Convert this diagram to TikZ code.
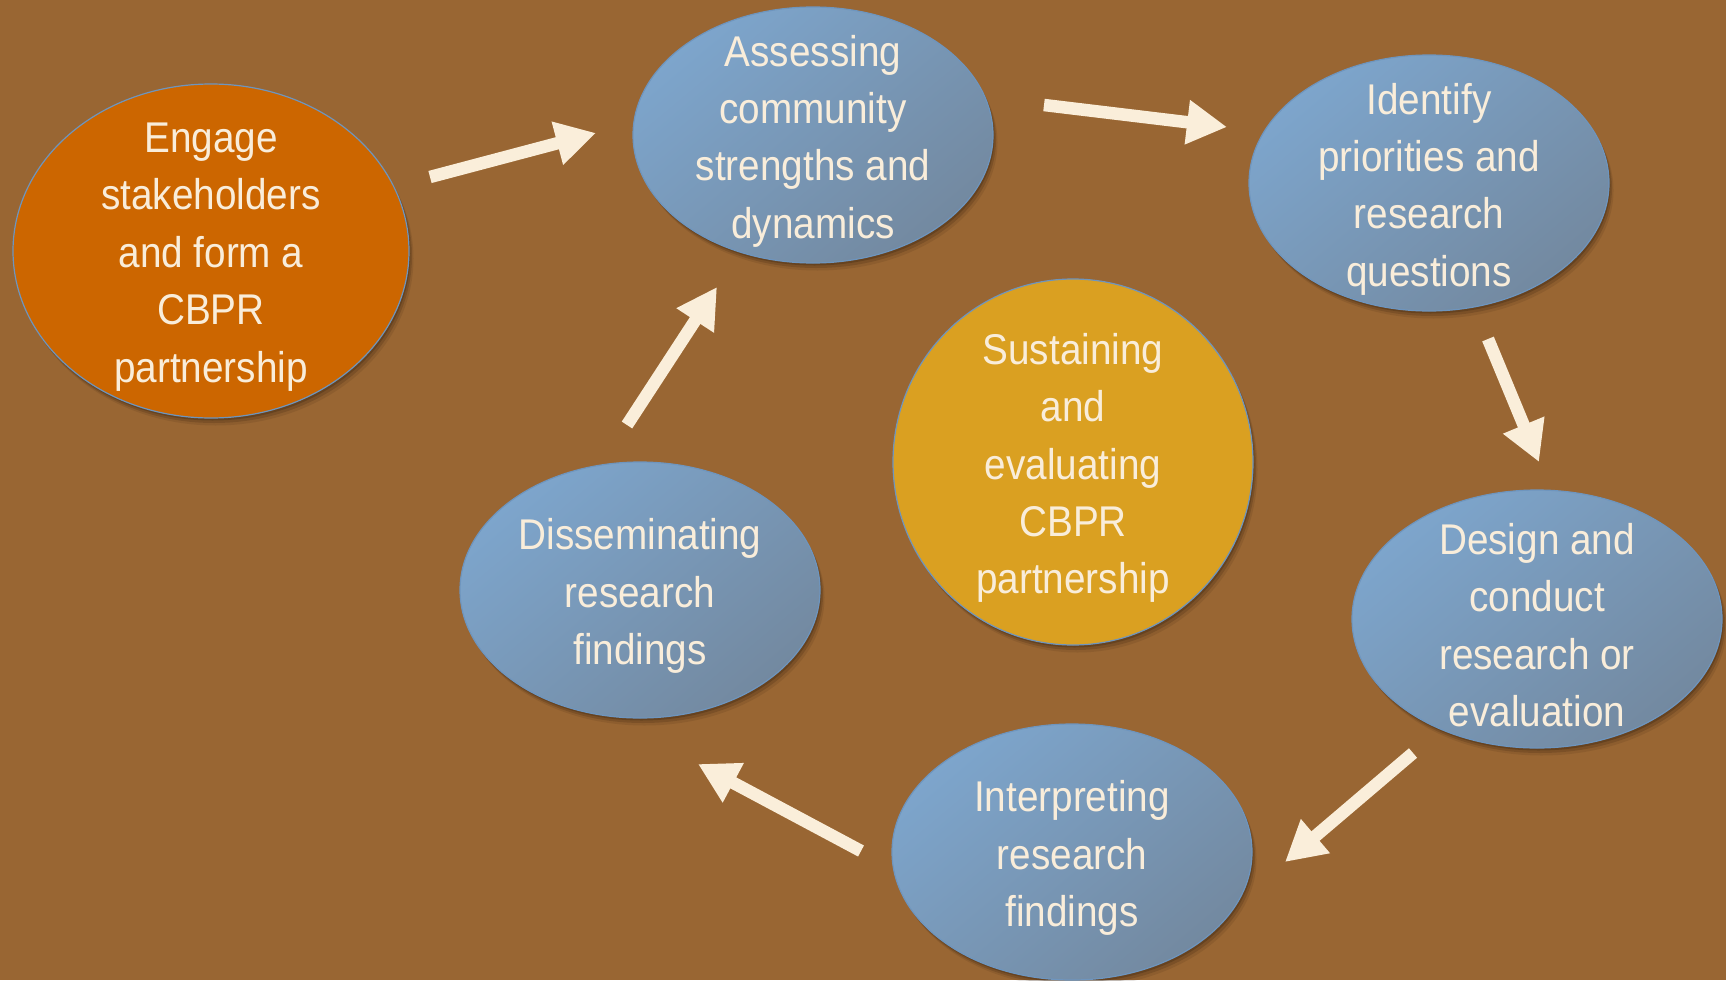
\documentclass[tikz,border=0pt]{standalone}
\usepackage{fontspec}
\setmainfont[FakeStretch=0.9]{Liberation Sans}
\usetikzlibrary{shapes.geometric,arrows.meta,shadows}
\definecolor{bg}{HTML}{996633}
\definecolor{orangefill}{HTML}{CC6600}
\definecolor{goldfill}{HTML}{DAA021}
\definecolor{blueA}{HTML}{7DA5CC}
\definecolor{blueB}{HTML}{7389A0}
\definecolor{edgeblue}{HTML}{6E95BE}
\definecolor{txt}{HTML}{F9EDDA}
\definecolor{arrowcol}{HTML}{FAEEDA}
\definecolor{shadowcol}{HTML}{3A2410}
\begin{document}
\begin{tikzpicture}[x=1pt,y=-1pt,
  bubble/.style={ellipse, draw=edgeblue, line width=1.2pt, inner sep=0pt,
    drop shadow={shadow xshift=1.5pt,shadow yshift=-2.5pt,opacity=.30,fill=shadowcol},
    drop shadow={shadow xshift=3pt,shadow yshift=-5pt,opacity=.22,fill=shadowcol},
    drop shadow={shadow xshift=4.5pt,shadow yshift=-7.5pt,opacity=.12,fill=shadowcol}},
  bluebub/.style={bubble, top color=blueA, bottom color=blueB, shading angle=40},
  lbl/.style={text=txt, align=center, inner sep=0pt, yshift=-6pt, font=\fontsize{43}{57.4}\selectfont},
  bigarrow/.style={draw=arrowcol, line width=12.5pt, -{Triangle[length=40pt,width=42pt]}}
]
\useasboundingbox (0,0) rectangle (1726,980);
\fill[bg] (0,0) rectangle (1726,980);

% bubbles
\node[bubble, fill=orangefill, minimum width=396pt, minimum height=334pt] (eng) at (211,251) {};
\node[bluebub, minimum width=360pt, minimum height=256pt] (ass) at (813,135) {};
\node[bluebub, minimum width=360pt, minimum height=256pt] (idf) at (1429,183) {};
\node[bluebub, minimum width=370pt, minimum height=258pt] (des) at (1537,619) {};
\node[bluebub, minimum width=360pt, minimum height=256pt] (intp) at (1072,852) {};
\node[bluebub, minimum width=360pt, minimum height=256pt] (dis) at (640,590) {};
\node[bubble, fill=goldfill, minimum width=360pt, minimum height=366pt] (sus) at (1073,462) {};

% labels
\node[lbl] (engt) at (eng) {Engage\\stakeholders\\and form a\\CBPR\\partnership};
\node[lbl] (asst) at (ass) {Assessing\\community\\strengths and\\dynamics};
\node[lbl] (idft) at (idf) {Identify\\priorities and\\research\\questions};
\node[lbl] (dest) at (des) {Design and\\conduct\\research or\\evaluation};
\node[lbl] (intpt) at (intp) {Interpreting\\research\\findings};
\node[lbl] (dist) at (dis) {Disseminating\\research\\findings};
\node[lbl] (sust) at (sus) {Sustaining\\and\\evaluating\\CBPR\\partnership};

% arrows
\coordinate (a1s) at (430,177);  \coordinate (a1e) at (596,133);
\coordinate (a2s) at (627,425);  \coordinate (a2e) at (717,287);
\coordinate (a3s) at (1044,105); \coordinate (a3e) at (1227,127);
\coordinate (a4s) at (1488,339); \coordinate (a4e) at (1539,462);
\coordinate (a5s) at (1413,753); \coordinate (a5e) at (1285,862);
\coordinate (a6s) at (861,851);  \coordinate (a6e) at (698,764);
\draw[bigarrow] (a1s) -- (a1e);
\draw[bigarrow] (a2s) -- (a2e);
\draw[bigarrow] (a3s) -- (a3e);
\draw[bigarrow] (a4s) -- (a4e);
\draw[bigarrow] (a5s) -- (a5e);
\draw[bigarrow] (a6s) -- (a6e);
\end{tikzpicture}
\end{document}
